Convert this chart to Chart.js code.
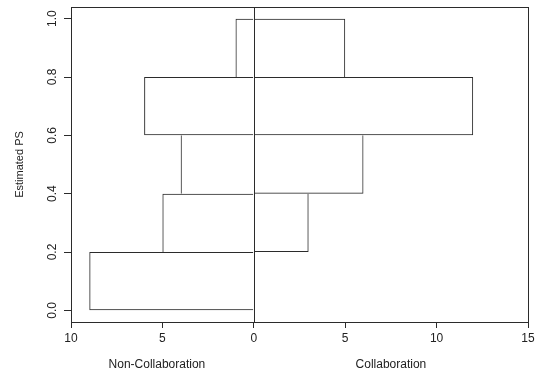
<!DOCTYPE html>
<html>
<head>
<meta charset="utf-8">
<script src="https://cdn.jsdelivr.net/npm/chart.js@4/dist/chart.umd.min.js"></script>
<style>
  html, body { margin: 0; padding: 0; background: #fff; }
  #wrap { width: 539px; height: 373px; }
</style>
</head>
<body>
<div id="wrap"><canvas id="chart"></canvas></div>
<script>
// back-to-back histogram of estimated propensity scores
const binMids = [0.1, 0.3, 0.5, 0.7, 0.9];
const nonCollab = [9, 5, 4, 6, 1];
const collab = [0, 3, 6, 12, 5];
const yTicks = [0, 0.2, 0.4, 0.6, 0.8, 1.0];
const yTickLabels = ['0.0', '0.2', '0.4', '0.6', '0.8', '1.0'];
const xTicks = [-10, -5, 0, 5, 10, 15];
const xTickLabels = ['10', '5', '0', '5', '10', '15'];
const groupLabels = ['Non-Collaboration', 'Collaboration'];
const groupPos = [-5.3, 7.5];

const ink = '#2b2b2b';
const font = 'Liberation Sans, Arial, sans-serif';

// shared edges between stacked bins are drawn once, by the wider bar;
// the side on the zero line is left to the zero line itself
const edges = (vals, outer) => ctx => {
  const i = ctx.dataIndex, v = vals[i];
  if (!v) return 0;
  const bottom = (i === 0 || v > vals[i - 1]) ? 1 : 0;
  const top = (i === vals.length - 1 || v >= vals[i + 1]) ? 1 : 0;
  return outer === 'left'
    ? { top, bottom, left: 1, right: 0 }
    : { top, bottom, left: 0, right: 1 };
};

const extras = {
  id: 'extras',
  afterDatasetsDraw(chart) {
    const { ctx, chartArea: a, scales: { x, y } } = chart;
    ctx.save();
    ctx.strokeStyle = ink;
    ctx.lineWidth = 1;
    // box
    ctx.strokeRect(Math.round(a.left) + 0.5, Math.round(a.top) + 0.5,
      Math.round(a.right - a.left), Math.round(a.bottom - a.top));
    // zero line
    const x0 = Math.round(x.getPixelForValue(0)) + 0.5;
    ctx.beginPath();
    ctx.moveTo(x0, a.top);
    ctx.lineTo(x0, a.bottom);
    ctx.stroke();
    // group labels under the axis
    ctx.fillStyle = '#222';
    ctx.font = '12px ' + font;
    ctx.textAlign = 'center';
    ctx.textBaseline = 'middle';
    groupLabels.forEach((t, i) => ctx.fillText(t, x.getPixelForValue(groupPos[i]), 365));
    // y title
    ctx.font = '11px ' + font;
    ctx.translate(20, (y.top + y.bottom) / 2);
    ctx.rotate(-Math.PI / 2);
    ctx.fillText('Estimated PS', 0, 0);
    ctx.restore();
  }
};

const barStyle = {
  backgroundColor: 'rgba(255,255,255,0)',
  borderColor: ink,
  borderSkipped: false,
  inflateAmount: 0,
  grouped: false,
  barPercentage: 1,
  categoryPercentage: 1
};

new Chart(document.getElementById('chart'), {
  type: 'bar',
  data: {
    datasets: [
      Object.assign({ label: groupLabels[0], data: binMids.map((m, i) => ({ y: m, x: [-nonCollab[i], 0] })),
        borderWidth: edges(nonCollab, 'left') }, barStyle),
      Object.assign({ label: groupLabels[1], data: binMids.map((m, i) => ({ y: m, x: [0, collab[i]] })),
        borderWidth: edges(collab, 'right') }, barStyle)
    ]
  },
  options: {
    indexAxis: 'y',
    responsive: true,
    maintainAspectRatio: false,
    animation: false,
    devicePixelRatio: 1,
    layout: { padding: { top: 7, right: 11, left: 0, bottom: 0 } },
    plugins: { legend: { display: false }, tooltip: { enabled: false } },
    scales: {
      x: {
        type: 'linear', min: -10, max: 15,
        afterBuildTicks: s => { s.ticks = xTicks.map(v => ({ value: v })); },
        afterFit: s => { s.height = 51; s.paddingLeft = 0; s.paddingRight = 0; },
        ticks: {
          callback: (v, i) => xTickLabels[i],
          font: { family: font, size: 12 }, color: '#222', padding: 3,
          maxRotation: 0, autoSkip: false
        },
        grid: { drawOnChartArea: false, tickLength: 6, color: ink },
        border: { display: false }
      },
      y: {
        type: 'linear', min: -0.04, max: 1.04, offset: false,
        afterBuildTicks: s => { s.ticks = yTicks.map(v => ({ value: v })); },
        afterFit: s => { s.width = 71; s.paddingTop = 0; s.paddingBottom = 0; },
        ticks: {
          callback: (v, i) => yTickLabels[i],
          font: { family: font, size: 12 }, color: '#222', padding: 3,
          minRotation: 90, maxRotation: 90, crossAlign: 'center', autoSkip: false
        },
        grid: { drawOnChartArea: false, offset: false, tickLength: 7, color: ink },
        border: { display: false }
      }
    }
  },
  plugins: [extras]
});
</script>
</body>
</html>
